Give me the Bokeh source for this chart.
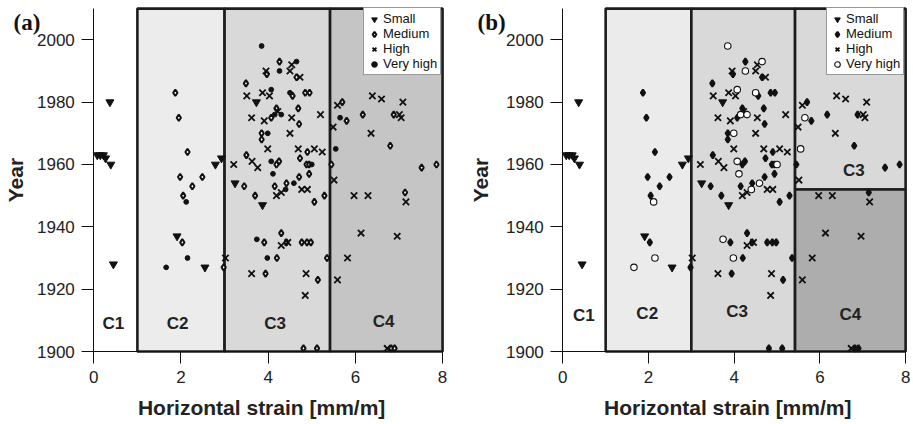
import math
from bokeh.plotting import figure
from bokeh.layouts import row
from bokeh.models import Range1d, Label, Legend, LegendItem, FixedTicker
from bokeh.core.properties import value
from bokeh.embed import file_html
from bokeh.resources import INLINE

# ---------------- data ----------------
small_x = [0.37, 0.08, 0.15, 0.22, 0.27, 0.39, 0.45, 1.91, 2.55, 2.79, 2.93, 3.24, 3.73, 3.87]
small_y = [1980, 1963, 1963, 1963, 1962, 1960, 1928, 1937, 1927, 1960, 1962, 1954, 1980, 1947]

medium_x = [1.87, 1.95, 2.15, 1.98, 2.49, 2.26, 2.05, 2.03, 2.98,
            4.26, 3.97, 4.65, 3.49, 4.56, 4.85, 4.95, 4.69, 4.19, 4.07, 4.71,
            3.85, 3.85, 4.90, 3.50, 4.73, 4.25, 4.19, 4.88, 4.94, 5.45, 4.94,
            4.71, 3.45, 4.15, 4.42, 3.70, 5.29, 5.06, 3.91, 4.30, 4.42, 4.77,
            4.89, 4.98, 4.20, 5.35, 3.94, 5.14, 4.81, 5.12,
            5.70, 5.80, 6.17, 6.88, 6.80, 7.52, 7.86, 7.14, 6.82, 6.90]
medium_y = [1983, 1975, 1964, 1956, 1956, 1953, 1950, 1935, 1927,
            1993, 1989, 1988, 1986, 1982, 1983, 1983, 1978, 1978, 1975, 1973,
            1970, 1968, 1964, 1963, 1962, 1961, 1960, 1960, 1960, 1960, 1957,
            1956, 1953, 1953, 1954, 1950, 1950, 1948, 1935, 1938, 1935, 1935,
            1935, 1935, 1930, 1930, 1925, 1923, 1901, 1901,
            1980, 1974, 1976, 1976, 1966, 1959, 1960, 1951, 1901, 1901]

high_x = [4.54, 3.95, 4.50, 4.73, 3.51, 3.87, 4.03, 5.20, 4.22, 3.62, 3.91,
          4.54, 4.50, 3.99, 4.69, 5.06, 5.24, 3.21, 3.63, 3.76, 4.19, 4.30,
          4.77, 4.90, 4.30, 4.45, 3.02, 3.62, 4.87, 4.85,
          5.59, 5.49, 6.39, 6.60, 7.09, 7.01, 7.05, 6.36, 5.51, 5.97, 6.29,
          7.16, 6.13, 6.96, 5.82, 5.59, 6.73]
high_y = [1992, 1990, 1990, 1988, 1982, 1983, 1982, 1976, 1977, 1975, 1974,
          1975, 1970, 1965, 1965, 1965, 1964, 1960, 1961, 1959, 1950, 1951,
          1952, 1952, 1934, 1935, 1930, 1925, 1925, 1918,
          1979, 1972, 1982, 1981, 1980, 1976, 1975, 1970, 1955, 1950, 1950,
          1948, 1938, 1937, 1930, 1923, 1901]

veryhigh_x = [3.85, 4.65, 4.26, 4.07, 4.50, 4.15, 4.30, 3.99, 5.55, 4.07,
              5.00, 4.11, 4.59, 4.40, 5.65, 3.74, 3.98, 2.12, 2.15, 1.66]
veryhigh_y = [1998, 1993, 1990, 1984, 1983, 1976, 1976, 1970, 1965, 1961,
              1960, 1957, 1954, 1952, 1975, 1936, 1930, 1948, 1930, 1927]

x_ticks = [0, 2, 4, 6, 8]
y_ticks = [1900, 1920, 1940, 1960, 1980, 2000]
x_bounds = (0, 8)
y_bounds = (1900, 2010)
legend_labels = ["Small", "Medium", "High", "Very high"]
panel_tags = ["(a)", "(b)"]
x_title = "Horizontal strain [mm/m]"
y_title = "Year"

# class zones: panel (a)
zones_a_left = [1.0, 3.0, 5.42]
zones_a_right = [3.0, 5.42, 8.0]
zones_a_bottom = [1900, 1900, 1900]
zones_a_top = [2010, 2010, 2010]
zones_a_color = ["#ebeceb", "#d9d9d9", "#c5c5c5"]
labels_a = ["C1", "C2", "C3", "C4"]
labels_a_x = [0.45, 1.92, 4.16, 6.65]
labels_a_y = [1909, 1909, 1909, 1909.5]

# class zones: panel (b)
zones_b_left = [1.0, 3.0, 5.42, 5.42]
zones_b_right = [3.0, 5.42, 8.0, 8.0]
zones_b_bottom = [1900, 1900, 1952, 1900]
zones_b_top = [2010, 2010, 2010, 1952]
zones_b_color = ["#ebebeb", "#d9d9d9", "#d9d9d9", "#adadad"]
labels_b = ["C1", "C2", "C3", "C3", "C4"]
labels_b_x = [0.49, 1.97, 4.07, 6.79, 6.71]
labels_b_y = [1911.5, 1912.3, 1912.8, 1958.2, 1911.9]

FONT = "Liberation Sans"
Y_START, Y_END = 1876.6, 2012.6


def make_panel(tag, width, x_start, x_end, tag_x, ytitle_x, legend_xy,
               zl, zr, zb, zt, zc, lab, lx, ly, filled_circle, filled_diamond):
    p = figure(width=width, height=424, output_backend="svg", toolbar_location=None,
               x_range=Range1d(x_start, x_end), y_range=Range1d(Y_START, Y_END),
               min_border=0)
    p.outline_line_color = None
    p.xgrid.visible = False
    p.ygrid.visible = False
    p.background_fill_color = "white"
    p.border_fill_color = "white"

    p.quad(left=zl, right=zr, bottom=zb, top=zt, fill_color=zc,
           line_color="#1c1c1c", line_width=2.6)

    p.text(x=lx, y=ly, text=lab, text_font=value(FONT), text_font_style="bold",
           text_font_size="17px", text_color="#222222",
           text_align="center", text_baseline="middle")

    r1 = p.scatter(small_x, small_y, marker="inverted_triangle", size=8,
                   fill_color="#111111", line_color="#111111", line_width=1)
    r2 = p.scatter(medium_x, medium_y, marker="diamond", size=6.5,
                   fill_color="#111111" if filled_diamond else "white",
                   line_color="#111111", line_width=2)
    r3 = p.scatter(high_x, high_y, marker="x", size=9, line_color="#111111", line_width=1.8)
    if filled_circle:
        r4 = p.scatter(veryhigh_x, veryhigh_y, marker="circle", size=4.8,
                       fill_color="#111111", line_color="#111111")
    else:
        r4 = p.scatter(veryhigh_x, veryhigh_y, marker="circle", size=6.5,
                       fill_color="white", line_color="#111111", line_width=1.1)

    legend = Legend(items=[LegendItem(label=legend_labels[i], renderers=[r])
                           for i, r in enumerate([r1, r2, r3, r4])],
                    location=legend_xy)
    legend.label_text_font = FONT
    legend.label_text_font_size = "13px"
    legend.label_text_color = "#111111"
    legend.glyph_width = 14
    legend.glyph_height = 14
    legend.label_height = 14
    legend.label_standoff = 2
    legend.spacing = 0
    legend.padding = 3
    legend.margin = 0
    legend.border_line_color = "#333333"
    legend.border_line_width = 1
    legend.background_fill_alpha = 1
    p.add_layout(legend)

    for ax in (p.xaxis, p.yaxis):
        ax.major_tick_out = 12
        ax.major_tick_in = 0
        ax.minor_tick_line_color = None
        ax.axis_line_color = "#111111"
        ax.major_tick_line_color = "#111111"
        ax.major_label_text_font = FONT
        ax.major_label_text_font_size = "17px"
        ax.major_label_text_color = "#222222"
    p.xaxis.ticker = FixedTicker(ticks=x_ticks)
    p.yaxis.ticker = FixedTicker(ticks=y_ticks)
    p.xaxis.bounds = x_bounds
    p.yaxis.bounds = y_bounds
    p.xaxis.fixed_location = y_bounds[0]
    p.yaxis.fixed_location = x_bounds[0]
    p.xaxis.major_label_standoff = 7
    p.yaxis.major_label_standoff = 7

    title_props = dict(text_font=FONT, text_font_style="bold", text_font_size="21px",
                       text_color="#222222", text_align="center", text_baseline="middle")
    p.add_layout(Label(x=3.85, y=1882.0, text=x_title, **title_props))
    p.add_layout(Label(x=ytitle_x, y=1955, text=y_title, angle=math.pi / 2, **title_props))

    p.add_layout(Label(x=tag_x, y=2009.6, text=tag, text_font="Liberation Serif",
                       text_font_style="bold", text_font_size="23px",
                       text_color="#111111", text_baseline="top", text_align="left"))
    return p


pa = make_panel(panel_tags[0], 456, -2.14, 8.32, -1.84, -1.80, (363, 349),
                zones_a_left, zones_a_right, zones_a_bottom, zones_a_top, zones_a_color,
                labels_a, labels_a_x, labels_a_y, True, False)
pb = make_panel(panel_tags[1], 457, -2.481, 8.184, -1.99, -1.92, (370, 349),
                zones_b_left, zones_b_right, zones_b_bottom, zones_b_top, zones_b_color,
                labels_b, labels_b_x, labels_b_y, False, True)

layout = row(pa, pb, spacing=0)
open("out.html", "w").write(file_html(layout, INLINE))
